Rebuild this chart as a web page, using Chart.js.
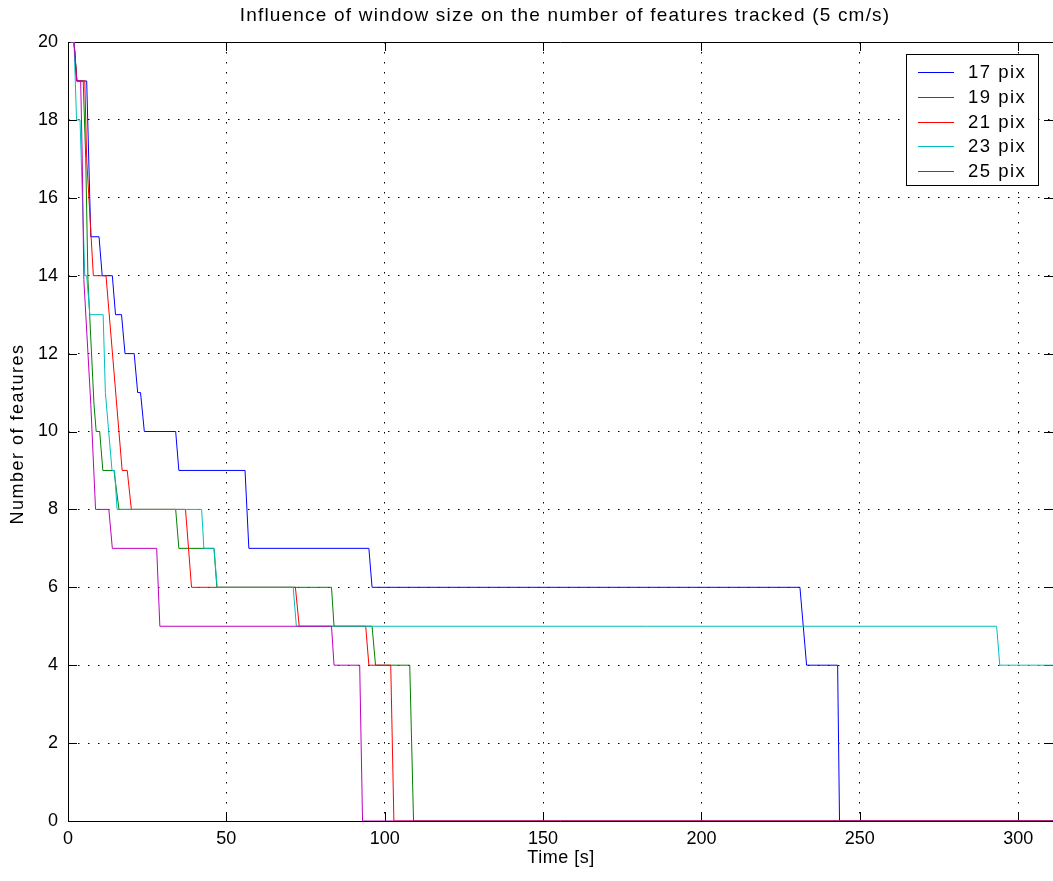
<!DOCTYPE html>
<html lang="en">
<head>
    <meta charset="UTF-8">
    <title>Window size vs features tracked</title>
    <script src="https://cdn.jsdelivr.net/npm/chart.js"></script>
    <style type="text/css">
        body{
            margin: 0;
            background: #fff;
        }
        canvas{
            display: block;
        }
    </style>
</head>
<body>
    <canvas id="myChart" width="1053" height="881"></canvas>
    <script>
        // tiempos (s) y numero de features
        const t17 = [0.8,1.9,2.8,5.9,7.2,9.8,10.8,14.0,15.0,16.9,18.0,20.9,22.0,22.9,24.1,34.0,35.0,55.9,57.1,95.0,96.0,231.1,233.2,243.0,243.6,311];
        const n17 = [20,20,19,19,15,15,14,14,13,13,12,12,11,11,10,10,9,9,7,7,6,6,4,4,0,0];

        const t19 = [0.8,1.9,2.8,4.8,5.6,6.3,8.2,8.9,10.0,11.0,14.5,16.1,34.0,35.0,46.1,47.0,83.2,84.0,96.0,97.1,107.9,109.1,311];
        const n19 = [20,20,19,19,17,13.9,10.7,10,10,9,9,8,8,7,7,6,6,5,5,4,4,0,0];

        const t21 = [0.8,1.9,2.8,5.3,5.9,8.0,12.0,17.1,18.7,20.0,37.1,39.0,71.8,73.0,94.0,95.0,101.9,102.9,311];
        const n21 = [20,20,19,19,17,14,14,9,9,8,8,6,6,5,5,4,4,0,0];

        const t23 = [0.8,1.9,2.7,3.8,5.3,5.9,6.9,11.1,11.8,13.9,14.7,15.5,42.2,42.9,46.1,47.1,71.1,72.1,293.2,294.2,311];
        const n23 = [20,20,18,18,14,14,13,13,11,9,9,8,8,7,7,6,6,5,5,4,4];

        const t25 = [0.8,1.9,2.7,4.0,4.5,5.0,7.2,8.7,12.9,14.0,28.0,29.0,83.2,84.0,92.1,93.0,311];
        const n25 = [20,20,19,19,17,13.9,10.7,8,8,7,7,5,5,4,4,0,0];

        const seriesNames = ['17 pix','19 pix','21 pix','23 pix','25 pix'];
        const seriesColors = ['#0000ff','#008000','#ff0000','#00bfbf','#bf00bf'];
        const xTicks = [0,50,100,150,200,250,300];
        const yTicks = [0,2,4,6,8,10,12,14,16,18,20];
        const chartTitle = 'Influence of window size on the number of features tracked (5 cm/s)';
        const xTitle = 'Time [s]';
        const yTitle = 'Number of features';

        const FONT = "'Liberation Sans', Arial, sans-serif";

        function toPoints(ts, ns){
            return ts.map(function(t, i){ return {x: t, y: ns[i]}; });
        }
        const allT = [t17,t19,t21,t23,t25];
        const allN = [n17,n19,n21,n23,n25];

        const datasets = seriesNames.map(function(name, i){
            return {
                label: name,
                data: toPoints(allT[i], allN[i]),
                borderColor: seriesColors[i],
                backgroundColor: seriesColors[i],
                borderWidth: 1,
                pointRadius: 0,
                showLine: true,
                tension: 0,
                order: seriesNames.length - 1 - i // la ultima serie queda encima, como en matlab
            };
        });

        // marco, ticks hacia dentro, titulos y leyenda
        const matlabFrame = {
            id: 'matlabFrame',
            beforeDatasetsDraw(chart){
                const ctx = chart.ctx;
                const a = chart.chartArea;
                const xs = chart.scales.x, ys = chart.scales.y;
                const tl = 9;
                ctx.save();
                ctx.strokeStyle = '#000';
                ctx.lineWidth = 1;
                ctx.beginPath();
                ctx.moveTo(a.left + 0.5, a.bottom + 0.5);
                ctx.lineTo(a.left + 0.5, a.top + 0.5);
                ctx.lineTo(a.right, a.top + 0.5);
                ctx.moveTo(a.left + 0.5, a.bottom + 0.5);
                ctx.lineTo(a.right, a.bottom + 0.5);
                yTicks.forEach(function(v){
                    const y = Math.round(ys.getPixelForValue(v)) + 0.5;
                    ctx.moveTo(a.left, y); ctx.lineTo(a.left + tl, y);
                    ctx.moveTo(a.right - tl, y); ctx.lineTo(a.right, y);
                });
                xTicks.forEach(function(v){
                    const x = Math.round(xs.getPixelForValue(v)) + 0.5;
                    ctx.moveTo(x, a.bottom); ctx.lineTo(x, a.bottom - tl);
                    ctx.moveTo(x, a.top); ctx.lineTo(x, a.top + tl);
                });
                ctx.stroke();
                ctx.restore();
            },
            afterDraw(chart){
                const ctx = chart.ctx;
                ctx.save();
                ctx.fillStyle = '#000';
                ctx.textBaseline = 'middle';
                ctx.textAlign = 'center';
                // titulo
                ctx.font = '19px ' + FONT;
                ctx.letterSpacing = '1.2px';
                ctx.fillText(chartTitle, 565, 16);
                // titulos de ejes
                ctx.font = '18px ' + FONT;
                ctx.letterSpacing = '0.5px';
                ctx.fillText(xTitle, 561, 858);
                ctx.save();
                ctx.translate(18, 434);
                ctx.rotate(-Math.PI / 2);
                ctx.letterSpacing = '1.5px';
                ctx.fillText(yTitle, 0, 0);
                ctx.restore();
                // leyenda
                const bx = 906.5, by = 54.5, bw = 132, bh = 131;
                ctx.fillStyle = '#fff';
                ctx.fillRect(bx, by, bw, bh);
                ctx.strokeStyle = '#000';
                ctx.lineWidth = 1;
                ctx.strokeRect(bx, by, bw, bh);
                ctx.textAlign = 'left';
                ctx.font = '18.5px ' + FONT;
                ctx.letterSpacing = '1.5px';
                seriesNames.forEach(function(name, i){
                    const y = 72 + i * 24.8;
                    ctx.strokeStyle = seriesColors[i];
                    ctx.beginPath();
                    ctx.moveTo(918, Math.round(y) + 0.5);
                    ctx.lineTo(954, Math.round(y) + 0.5);
                    ctx.stroke();
                    ctx.fillStyle = '#000';
                    ctx.fillText(name, 968, y + 1);
                });
                ctx.restore();
            }
        };

        const config = {
            type: 'scatter',
            data: { datasets: datasets },
            options: {
                responsive: false,
                animation: false,
                layout: { padding: { top: 42, right: 0, bottom: 0, left: 0 } },
                plugins: {
                    legend: { display: false },
                    tooltip: { enabled: false },
                    title: { display: false }
                },
                scales: {
                    x: {
                        type: 'linear',
                        min: 0,
                        max: 311,
                        afterFit: function(scale){ scale.height = 60; },
                        afterBuildTicks: function(scale){
                            scale.ticks = xTicks.map(function(v){ return {value: v}; });
                        },
                        ticks: {
                            padding: 7,
                            color: '#000',
                            font: { family: FONT, size: 18 },
                            maxRotation: 0
                        },
                        grid: { color: '#000', lineWidth: 1, drawTicks: false },
                        border: { display: false, dash: [1.5, 8.5] }
                    },
                    y: {
                        type: 'linear',
                        min: 0,
                        max: 20,
                        afterFit: function(scale){ scale.width = 68; },
                        afterBuildTicks: function(scale){
                            scale.ticks = yTicks.map(function(v){ return {value: v}; });
                        },
                        ticks: {
                            padding: 10,
                            color: '#000',
                            font: { family: FONT, size: 18 }
                        },
                        grid: { color: '#000', lineWidth: 1, drawTicks: false },
                        border: { display: false, dash: [1.5, 8.5] }
                    }
                }
            },
            plugins: [matlabFrame]
        };

        const myChart = new Chart(document.getElementById('myChart'), config);
    </script>
</body>
</html>
